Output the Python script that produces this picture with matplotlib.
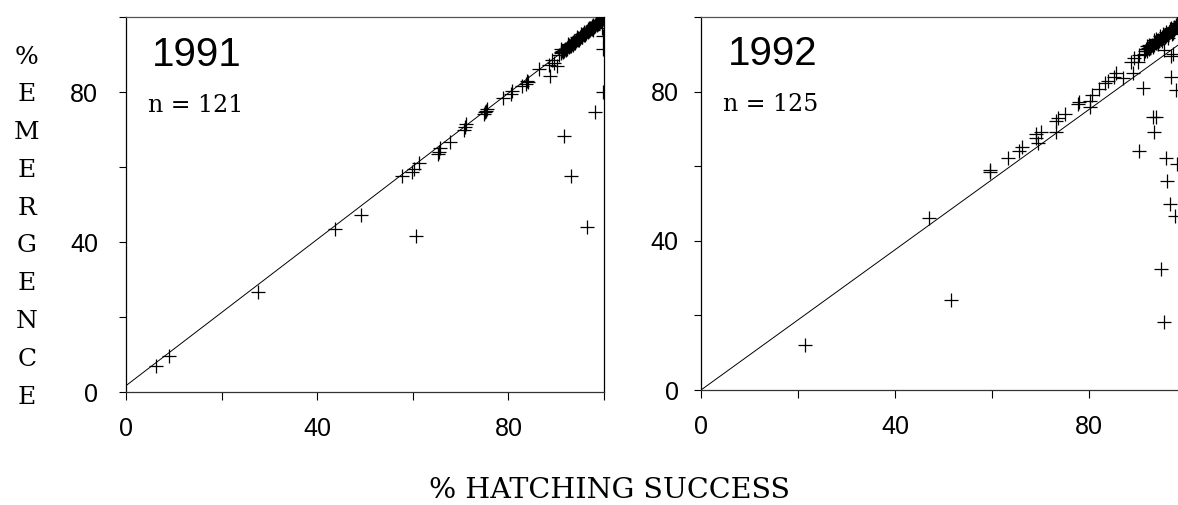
import matplotlib
matplotlib.use("Agg")
import matplotlib.pyplot as plt

# ---- data ----
# 1991: points away from the dense top-right cluster
x91_spread = [6.2, 9.1, 27.6, 43.7, 49.2, 60.6, 57.7, 59.8, 60.2, 61.4,
              65.4, 65.6, 65.2, 67.8, 70.9, 71.1, 70.7, 75.3, 75.6, 74.9,
              75.1, 78.8, 80.8, 80.6, 82.9, 83.6, 83.8, 84.2, 86.4, 88.8,
              88.5, 89.5, 90.2, 89.2, 91.6, 93.1, 96.5, 98.2, 99.8, 99.8,
              99.8]
y91_spread = [7.0, 9.6, 26.7, 43.5, 47.2, 41.7, 57.7, 58.8, 59.4, 61.1,
              64.1, 65.2, 63.4, 66.6, 70.6, 71.5, 69.8, 75.0, 75.5, 74.1,
              74.6, 78.3, 80.4, 79.5, 81.5, 82.1, 83.0, 82.6, 86.1, 84.4,
              87.3, 87.8, 86.9, 88.6, 68.4, 57.7, 43.9, 74.8, 91.5, 79.9,
              95.0]
# 1991: dense cluster near 90-100 %
x91_cluster = [90.6, 90.9, 91.1, 91.3, 91.4, 91.6, 91.7, 91.9, 92.0, 92.2,
               92.3, 92.4, 92.6, 92.7, 92.9, 93.0, 93.1, 93.3, 93.4, 93.5,
               93.7, 93.8, 93.9, 94.1, 94.2, 94.3, 94.5, 94.6, 94.7, 94.9,
               95.0, 95.1, 95.3, 95.4, 95.5, 95.7, 95.8, 95.9, 96.1, 96.2,
               96.3, 96.5, 96.6, 96.7, 96.9, 97.0, 97.1, 97.3, 97.4, 97.5,
               97.7, 97.8, 97.9, 98.1, 98.2, 98.3, 98.5, 98.6, 98.7, 98.9,
               99.0, 99.1, 99.2, 99.3, 99.4, 99.5, 99.6, 99.7, 99.8, 99.9,
               91.0, 92.5, 93.6, 94.4, 95.2, 96.0, 96.8, 97.6, 98.4, 99.5]
y91_cluster = [90.0, 90.6, 90.5, 91.0, 90.6, 91.3, 90.9, 91.6, 91.1, 91.8,
               91.6, 92.3, 91.9, 92.6, 92.2, 92.9, 92.4, 93.1, 92.7, 93.4,
               93.0, 93.6, 93.2, 93.9, 93.5, 94.2, 93.8, 94.5, 94.0, 94.7,
               94.3, 95.0, 94.6, 95.3, 94.8, 95.6, 95.1, 95.9, 95.4, 96.1,
               95.7, 96.4, 95.9, 96.7, 96.2, 97.0, 96.5, 97.2, 96.8, 97.5,
               97.0, 97.8, 97.3, 98.0, 97.6, 98.3, 97.9, 98.6, 98.1, 98.8,
               98.4, 99.1, 98.6, 99.3, 98.9, 99.6, 99.1, 99.8, 99.4, 100.0,
               91.4, 92.8, 92.6, 94.6, 95.4, 95.1, 97.1, 96.6, 98.7, 97.0]

# 1992: points away from the cluster
x92_spread = [21.4, 47.1, 51.5, 59.5, 59.6, 63.2, 65.6, 66.2, 69.1, 69.4,
              70.1, 69.0, 73.2, 73.1, 73.7, 75.1, 77.7, 78.0, 80.3, 80.6,
              80.3, 82.1, 83.2, 83.9, 85.2, 85.6, 87.0, 88.7, 89.3, 90.0,
              89.1, 90.3, 91.3, 91.1, 90.4, 93.1, 93.8, 93.3, 94.8, 95.5,
              95.9, 96.1, 96.8, 97.7, 98.1, 96.9, 97.9, 97.3, 96.9, 95.4]
y92_spread = [12.0, 46.2, 24.0, 58.5, 59.0, 62.2, 64.0, 65.1, 67.6, 66.3,
              69.3, 68.5, 69.3, 72.0, 72.9, 74.0, 76.6, 77.2, 77.5, 79.1,
              76.0, 80.7, 82.2, 82.8, 84.0, 84.9, 83.6, 88.0, 88.9, 88.0,
              84.9, 89.8, 90.2, 80.9, 64.0, 73.3, 73.3, 69.3, 32.4, 18.2,
              62.2, 56.0, 50.0, 46.7, 60.6, 84.0, 80.4, 90.2, 89.5, 91.1]
x92_cluster = [91.6, 91.8, 92.0, 92.1, 92.3, 92.5, 92.6, 92.8, 93.0, 93.1,
               93.3, 93.5, 93.6, 93.8, 94.0, 94.1, 94.3, 94.4, 94.6, 94.8,
               94.9, 95.1, 95.2, 95.4, 95.6, 95.7, 95.9, 96.0, 96.2, 96.4,
               96.5, 96.7, 96.8, 97.0, 97.2, 97.3, 97.5, 97.6, 97.8, 98.0,
               98.1, 98.3, 98.4, 98.6, 98.8, 98.9, 99.1, 99.2, 99.4, 99.6,
               99.7, 99.9, 100.0, 92.4, 93.9, 95.3, 96.6, 97.9, 98.5, 99.3,
               91.9, 94.7, 95.8, 96.9, 97.4, 98.2, 99.0, 99.5, 96.3, 95.0,
               93.4, 94.2, 97.1, 98.7, 99.8]
y92_cluster = [90.9, 91.4, 91.0, 91.6, 91.3, 92.0, 91.7, 92.2, 92.5, 92.0,
               92.8, 92.6, 93.2, 93.0, 93.5, 93.3, 93.9, 93.6, 94.1, 94.2,
               94.0, 94.6, 94.3, 94.9, 94.7, 95.2, 95.0, 95.5, 95.3, 95.9,
               95.6, 96.2, 96.0, 96.5, 96.3, 96.9, 96.6, 97.2, 97.0, 97.5,
               97.3, 97.8, 97.6, 98.1, 97.9, 98.4, 98.2, 98.7, 98.5, 99.0,
               98.8, 99.3, 99.6, 92.6, 94.0, 95.4, 96.8, 97.8, 96.4, 97.7,
               92.1, 94.8, 96.0, 97.0, 95.8, 98.3, 96.9, 99.1, 94.4, 93.6,
               93.7, 92.8, 95.4, 99.0, 97.5]

# fitted lines (intercept, slope) as drawn in the figure
fit91 = (1.7, 0.975)
fit92 = (0.0, 0.94)

years = ["1991", "1992"]
n_labels = ["n = 121", "n = 125"]
ticks = [0, 20, 40, 60, 80, 100]
tick_labels = ["0", "", "40", "", "80", ""]
ylabel_letters = ["%", "E", "M", "E", "R", "G", "E", "N", "C", "E"]
xlabel = "% HATCHING SUCCESS"

SANS = "Liberation Sans"
SERIF = "DejaVu Serif"

W, H = 1178, 505
fig = plt.figure(figsize=(W / 100, H / 100), dpi=100)
fig.patch.set_facecolor("white")

# axes rectangles in pixels: left, top, right, bottom
boxes = [(126, 17, 604, 392), (701, 17, 1186, 390)]
xmax = [99.6, 100]
ypads = [15, 11]

panels = [
    (x91_spread + x91_cluster, y91_spread + y91_cluster, fit91),
    (x92_spread + x92_cluster, y92_spread + y92_cluster, fit92),
]

for i, (xs, ys, fit) in enumerate(panels):
    l, t, r, b = boxes[i]
    ax = fig.add_axes([l / W, 1 - b / H, (r - l) / W, (b - t) / H])
    ax.set_xlim(0, xmax[i])
    ax.set_ylim(0, 100)

    # fitted line
    a, s = fit
    ax.plot([0, 100], [a, a + s * 100], color="black", lw=0.7, zorder=2)

    # data
    ax.plot(xs, ys, linestyle="none", marker="+", markersize=10,
            markeredgewidth=0.9, color="black", zorder=3)

    ax.set_xticks(ticks)
    ax.set_xticklabels(tick_labels, fontfamily=SANS, fontsize=18)
    ax.set_yticks(ticks)
    ax.set_yticklabels(tick_labels, fontfamily=SANS, fontsize=18)
    ax.tick_params(axis="x", direction="out", length=6, width=0.8, pad=12)
    ax.tick_params(axis="y", direction="out", length=5, width=0.8, pad=ypads[i])

    for side in ["left", "right", "bottom"]:
        ax.spines[side].set_linewidth(0.9)
        ax.spines[side].set_color("black")
    ax.spines["top"].set_linewidth(0.9)
    ax.spines["top"].set_color("#555555")
    ax.spines["bottom"].set_color("#333333")

    ax.text(0.055, 0.9, years[i], transform=ax.transAxes, fontfamily=SANS,
            fontsize=29, va="center", ha="left")
    ax.text(0.045, 0.765, n_labels[i], transform=ax.transAxes,
            fontfamily=SERIF, fontsize=17, va="center", ha="left")

# stacked vertical y label
for k, letter in enumerate(ylabel_letters):
    ypix = 57 + k * 37.8
    fig.text(27 / W, 1 - ypix / H, letter, fontfamily=SERIF, fontsize=18,
             ha="center", va="center")

fig.text(609 / W, 1 - 491 / H, xlabel, fontfamily=SERIF, fontsize=20.5,
         ha="center", va="center")

fig.savefig("out.png", dpi=100, facecolor="white")
